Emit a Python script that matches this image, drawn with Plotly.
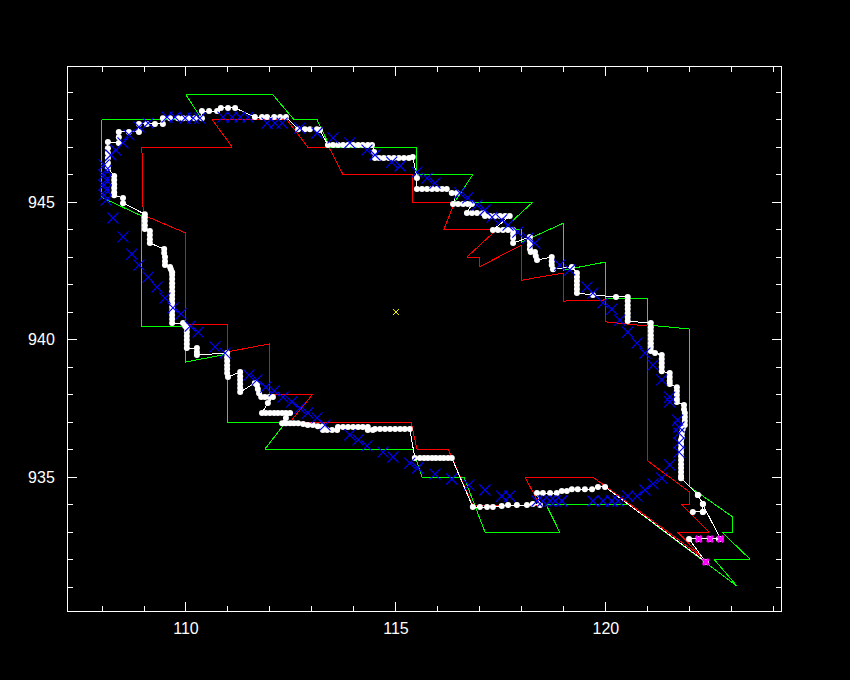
import plotly.graph_objects as go

# ---- outer (green) boundary polygon ----
green_x = [108.0, 110.38, 110.0, 112.07, 112.57, 113.12, 113.43, 115.5, 115.5, 116.83, 116.4, 118.26,
           117.55, 118.0, 118.0, 119.0, 119.0, 120.0, 120.0, 121.0, 121.0, 122.0, 122.0, 123.02,
           123.02, 122.76, 123.43, 122.57, 123.12, 120.52, 118.57, 118.9, 117.12, 116.62, 115.62,
           115.4, 111.88, 112.38, 110.98, 110.98, 109.98, 109.98, 108.95, 108.95, 107.98, 108.0]
green_y = [948.0, 948.0, 948.9, 948.9, 948.0, 948.0, 947.0, 947.0, 946.0, 946.0, 945.0, 945.0,
           944.0, 944.0, 943.55, 944.24, 942.53, 942.82, 941.51, 941.51, 940.53, 940.38, 934.64, 933.55,
           933.0, 933.0, 932.02, 932.02, 931.04, 934.02, 934.02, 933.0, 933.0, 935.0, 935.0,
           936.02, 936.02, 937.0, 937.0, 939.47, 939.18, 940.49, 940.49, 944.49, 945.18, 948.0]

# ---- inner (red) boundary polygon ----
red_x = [108.95, 111.10, 110.62, 112.40, 112.90, 113.40, 113.74, 115.40, 115.40, 116.40, 116.14, 117.40,
         116.69, 116.98, 116.98, 118.0, 118.0, 119.0, 119.0, 120.0, 120.0, 121.0, 121.0, 122.0,
         122.0, 121.79, 122.45, 121.71, 122.29, 119.69, 118.07, 118.43, 116.83, 116.24, 115.5,
         115.36, 112.48, 113.02, 111.98, 111.98, 110.98, 110.98, 110.0, 110.0, 108.98, 108.95]
red_y = [947.0, 947.0, 948.0, 948.0, 947.0, 947.0, 946.0, 946.0, 945.0, 945.0, 944.0, 944.0,
         943.0, 943.0, 942.64, 943.44, 942.16, 942.42, 941.40, 941.44, 940.64, 940.49, 935.58, 934.45,
         934.02, 934.02, 933.0, 933.0, 932.09, 935.0, 935.0, 933.98, 933.98, 936.02, 936.02,
         937.0, 937.0, 938.02, 938.02, 939.84, 939.55, 940.56, 940.56, 943.87, 944.53, 947.0]

# ---- tracked path (white line with dots) ----
track_x = [122.38, 119.98, 119.81, 119.67, 119.50, 119.33, 119.19, 119.07, 118.95, 118.83, 118.67, 118.50,
           118.36, 118.43, 118.26, 118.12, 117.88, 117.67, 117.52, 117.31, 117.17, 117.00, 116.83,
           116.33, 116.24, 116.14, 116.05, 115.95, 115.86, 115.76, 115.67, 115.57, 115.45,
           115.33, 115.21, 115.10, 114.98, 114.86, 114.74, 114.62, 114.50, 114.45, 114.33,
           114.33, 114.21, 114.10, 113.98, 113.86, 113.74, 113.62, 113.60, 113.48, 113.36, 113.26,
           113.26, 113.14, 113.02, 112.90, 112.79, 112.67, 112.57, 112.48, 112.38, 112.29,
           112.38, 112.48, 112.38, 112.29, 112.19, 112.10, 112.00, 111.90, 111.81,
           111.95, 112.07, 111.98, 111.88, 111.79, 111.74, 111.71, 111.69, 111.64,
           111.29, 111.29, 111.29, 111.29, 111.29, 111.29,
           111.00, 110.98, 110.98, 110.98, 110.98, 110.98, 110.98,
           110.26, 110.26, 110.26,
           110.02, 110.02, 110.02, 110.02, 110.02, 110.02, 109.98, 109.93,
           109.67, 109.67, 109.67, 109.67, 109.67, 109.67, 109.67, 109.67, 109.67, 109.67, 109.67, 109.67,
           109.67, 109.67, 109.64, 109.62,
           109.50, 109.50, 109.50, 109.48, 109.48,
           109.14, 109.14, 109.14, 109.14,
           109.02, 109.02, 109.02, 109.02, 109.02,
           108.50, 108.50, 108.29, 108.29, 108.29, 108.29, 108.29, 108.29,
           108.14, 108.14, 108.14, 108.14, 108.14, 108.14,
           108.40, 108.40, 108.40, 108.64, 108.88, 108.88, 109.07, 109.26, 109.45,
           109.45, 109.62, 109.81, 109.93, 110.05, 110.21, 110.38,
           110.38, 110.55, 110.74, 110.83, 111.00, 111.17,
           111.64, 111.81, 111.93, 112.10, 112.24, 112.38,
           112.67, 112.83, 112.95, 113.12, 113.19,
           113.38, 113.50, 113.62, 113.74, 113.86, 113.98, 114.10, 114.21, 114.33, 114.43,
           114.48, 114.50, 114.60, 114.71, 114.83, 114.95, 115.07, 115.19, 115.31, 115.40,
           115.50,
           115.50, 115.62, 115.74, 115.86, 115.98, 116.10, 116.21, 116.33, 116.45,
           116.36, 116.48, 116.60, 116.71, 116.81,
           116.69, 116.81, 116.93, 117.07,
           117.12, 117.24, 117.36, 117.48, 117.60, 117.71,
           117.31, 117.43, 117.55, 117.67, 117.79, 117.79, 117.79, 117.79,
           118.19, 118.19, 118.19, 118.19, 118.21, 118.31, 118.33, 118.36,
           118.71, 118.71, 118.71, 118.74, 119.19,
           119.31, 119.31, 119.31, 119.31, 119.31, 119.31, 119.69, 120.24,
           120.52, 120.52, 120.52, 120.52, 120.52, 120.52, 120.52,
           121.07, 121.07, 121.07, 121.07, 121.07, 121.07, 121.07, 121.07, 121.17,
           121.33, 121.33, 121.33, 121.33, 121.33,
           121.52, 121.52, 121.52, 121.52,
           121.69, 121.69, 121.69, 121.69, 121.69,
           121.86, 121.86, 121.88, 121.88, 121.88, 121.88, 121.83, 121.81, 121.81,
           121.79, 121.79, 121.79, 121.79, 121.79, 121.79, 121.79, 121.79, 121.79, 121.79, 121.79,
           122.19, 122.31, 122.31, 122.07, 122.31, 122.31, 122.19,
           122.73, 122.69, 122.48, 122.21, 121.98, 122.38]
track_y = [931.91, 934.64, 934.64, 934.56, 934.56, 934.56, 934.56, 934.49, 934.49, 934.42, 934.42, 934.42,
           934.42, 933.98, 934.02, 933.98, 933.98, 933.98, 933.95, 933.91, 933.91, 933.91, 933.91,
           935.69, 935.69, 935.69, 935.69, 935.69, 935.69, 935.69, 935.69, 935.69, 935.69,
           936.75, 936.75, 936.75, 936.75, 936.75, 936.75, 936.75, 936.75, 936.71, 936.71,
           936.82, 936.82, 936.82, 936.82, 936.82, 936.82, 936.82, 936.71, 936.71, 936.71, 936.71,
           936.85, 936.85, 936.89, 936.89, 936.93, 936.96, 936.96, 936.96, 936.96, 936.96,
           937.15, 937.33, 937.33, 937.33, 937.33, 937.33, 937.33, 937.33, 937.33,
           937.69, 937.91, 937.91, 937.91, 937.91, 938.05, 938.20, 938.35, 938.42,
           938.09, 938.24, 938.38, 938.53, 938.67, 938.82,
           938.64, 938.78, 938.93, 939.07, 939.22, 939.36, 939.51,
           939.44, 939.55, 939.69,
           939.69, 939.84, 939.98, 940.13, 940.27, 940.42, 940.49, 940.60,
           940.60, 940.75, 940.89, 941.04, 941.18, 941.33, 941.47, 941.62, 941.76, 941.91, 942.05, 942.20,
           942.35, 942.45, 942.56, 942.64,
           942.71, 942.85, 943.00, 943.15, 943.29,
           943.51, 943.65, 943.80, 943.95,
           944.02, 944.16, 944.31, 944.45, 944.56,
           944.96, 945.15, 945.25, 945.36, 945.51, 945.65, 945.80, 945.95,
           946.24, 946.42, 946.60, 946.78, 946.96, 947.18,
           947.15, 947.36, 947.55, 947.55, 947.55, 947.84, 947.84, 947.84, 947.84,
           948.05, 948.05, 948.05, 948.05, 948.05, 948.05, 948.05,
           948.31, 948.31, 948.31, 948.42, 948.42, 948.42,
           948.09, 948.09, 948.09, 948.09, 948.09, 948.09,
           947.65, 947.65, 947.65, 947.65, 947.62,
           947.07, 947.07, 947.07, 947.07, 947.07, 947.07, 947.07, 947.07, 947.07, 947.07,
           946.82, 946.60, 946.60, 946.60, 946.60, 946.60, 946.60, 946.60, 946.60, 946.64,
           945.87,
           945.47, 945.47, 945.47, 945.47, 945.47, 945.47, 945.47, 945.33, 945.33,
           944.93, 944.93, 944.93, 944.93, 944.93,
           944.60, 944.60, 944.60, 944.60,
           944.49, 944.49, 944.49, 944.49, 944.49, 944.49,
           943.98, 943.98, 943.98, 943.98, 943.98, 943.84, 943.69, 943.51,
           943.73, 943.58, 943.44, 943.29, 943.18, 943.18, 943.04, 942.89,
           943.00, 942.85, 942.71, 942.56, 942.64,
           942.42, 942.27, 942.13, 941.98, 941.84, 941.69, 941.62, 941.55,
           941.55, 941.40, 941.25, 941.11, 940.96, 940.82, 940.67,
           940.60, 940.45, 940.31, 940.16, 940.02, 939.87, 939.73, 939.58, 939.51,
           939.44, 939.29, 939.15, 939.00, 938.85,
           938.78, 938.64, 938.49, 938.38,
           938.27, 938.13, 937.98, 937.84, 937.73,
           937.62, 937.47, 937.33, 937.18, 937.04, 936.89, 936.75, 936.60, 936.45,
           936.35, 936.20, 936.05, 935.91, 935.76, 935.62, 935.47, 935.33, 935.18, 935.04, 934.96,
           934.35, 934.02, 933.73, 933.73, 933.73, 934.02, 934.35,
           932.75, 932.75, 932.75, 932.75, 932.75, 931.91]

# ---- observed positions (blue crosses) ----
blue_x = [108.05, 108.10, 108.05, 108.10, 108.05, 108.10, 108.05, 108.21, 108.33, 108.50, 108.64, 108.88,
          109.10, 109.55, 109.74, 109.98, 110.17, 110.33, 110.88, 111.10, 111.29, 111.48, 111.93, 112.12,
          112.29, 112.71, 113.12, 113.50, 113.90, 114.31, 114.50, 114.90, 115.10, 115.50, 115.74, 115.93,
          116.52, 116.71, 116.93, 117.12, 117.29, 117.52, 117.67, 117.90, 118.14, 118.31, 118.90, 119.14,
          119.55, 119.69, 119.93, 120.14, 120.33, 120.52, 120.74, 120.93, 121.12, 121.33, 121.52, 121.52,
          121.71, 121.74, 121.74, 121.74, 121.74, 121.52, 121.33, 121.12, 120.93, 120.74, 120.52, 120.29,
          120.14, 119.93, 119.69, 118.95, 118.79, 118.67, 118.50, 118.36, 117.71, 117.52, 117.12, 116.74,
          116.33, 115.93, 115.52, 115.33, 114.93, 114.69, 114.31, 114.10, 113.90, 113.31, 113.12, 112.90,
          112.71, 112.52, 112.31, 112.10, 111.90, 111.69, 111.50, 110.93, 110.69, 110.29, 110.10, 109.88,
          109.69, 109.50, 109.31, 109.10, 108.88, 108.71, 108.50, 108.26, 108.10]
blue_y = [946.35, 946.16, 945.98, 945.80, 945.62, 945.44, 945.25, 946.71, 946.89, 947.15, 947.44, 947.73,
          947.87, 948.09, 948.09, 948.05, 948.05, 948.05, 948.09, 948.09, 948.09, 948.09, 947.87, 947.87,
          947.87, 947.69, 947.51, 947.33, 947.15, 946.89, 946.71, 946.45, 946.31, 946.09, 945.87, 945.69,
          945.33, 945.15, 944.89, 944.71, 944.45, 944.35, 944.16, 943.91, 943.69, 943.51, 942.71, 942.53,
          941.91, 941.69, 941.33, 941.11, 940.71, 940.27, 939.87, 939.51, 939.07, 938.53, 937.91, 937.73,
          937.07, 936.82, 936.60, 936.24, 935.91, 935.44, 934.96, 934.75, 934.53, 934.31, 934.31, 934.13,
          934.13, 934.13, 934.13, 934.13, 934.13, 934.13, 934.13, 934.13, 934.31, 934.31, 934.53, 934.71,
          934.93, 935.11, 935.33, 935.51, 935.73, 935.91, 936.13, 936.35, 936.53, 936.89, 937.15, 937.33,
          937.51, 937.73, 937.91, 938.13, 938.27, 938.53, 938.71, 939.51, 939.73, 940.27, 940.49, 940.93,
          941.15, 941.51, 941.91, 942.27, 942.71, 943.11, 943.73, 944.42, 945.07]

# ---- highlighted final points (magenta) and centre (yellow) ----
mag_x = [122.21, 122.48, 122.73, 122.38]
mag_y = [932.75, 932.75, 932.75, 931.91]
centre_x = [115.0]
centre_y = [941.0]

fig = go.Figure()
fig.add_trace(go.Scatter(x=green_x, y=green_y, mode="lines",
                         line=dict(color="#00ff00", width=1), hoverinfo="skip"))
fig.add_trace(go.Scatter(x=red_x, y=red_y, mode="lines",
                         line=dict(color="#ff0000", width=1), hoverinfo="skip"))
fig.add_trace(go.Scatter(x=track_x, y=track_y, mode="lines+markers",
                         line=dict(color="#ffffff", width=1),
                         marker=dict(color="#ffffff", size=6, symbol="circle")))
fig.add_trace(go.Scatter(x=blue_x, y=blue_y, mode="markers",
                         marker=dict(symbol="x-thin", size=11,
                                     line=dict(color="#0000ff", width=1.1))))
fig.add_trace(go.Scatter(x=mag_x, y=mag_y, mode="markers",
                         marker=dict(symbol="x", size=7, color="#ff00ff",
                                     line=dict(width=0))))
fig.add_trace(go.Scatter(x=centre_x, y=centre_y, mode="markers",
                         marker=dict(symbol="x-thin", size=6,
                                     line=dict(color="#ffff00", width=1))))

axis_common = dict(
    showline=True, linecolor="#ffffff", linewidth=1, mirror="allticks",
    ticks="inside", ticklen=9, tickwidth=1, tickcolor="#ffffff",
    showgrid=False, zeroline=False,
    tickfont=dict(family="Liberation Sans", size=16, color="#ffffff"),
)
fig.update_xaxes(range=[107.19, 124.17], tickvals=[110, 115, 120],
                 minor=dict(ticks="inside", ticklen=5, dtick=1, tick0=110,
                            tickcolor="#ffffff", showgrid=False),
                 ticklabelstandoff=3, **axis_common)
fig.update_yaxes(range=[930.13, 949.91], tickvals=[935, 940, 945],
                 minor=dict(ticks="inside", ticklen=5, dtick=1, tick0=935,
                            tickcolor="#ffffff", showgrid=False),
                 ticklabelstandoff=9, **axis_common)
fig.update_layout(width=850, height=680, showlegend=False,
                  paper_bgcolor="#000000", plot_bgcolor="#000000",
                  margin=dict(l=68, r=69, t=67, b=69))

post = ("document.body.style.margin='0';"
        "document.body.style.background='#000';"
        "document.querySelectorAll('.scatterlayer path.js-line').forEach(function(e){"
        "e.setAttribute('shape-rendering','crispEdges');e.style.shapeRendering='crispEdges';});")
fig.write_html("out.html", post_script=post, config={"displayModeBar": False})
